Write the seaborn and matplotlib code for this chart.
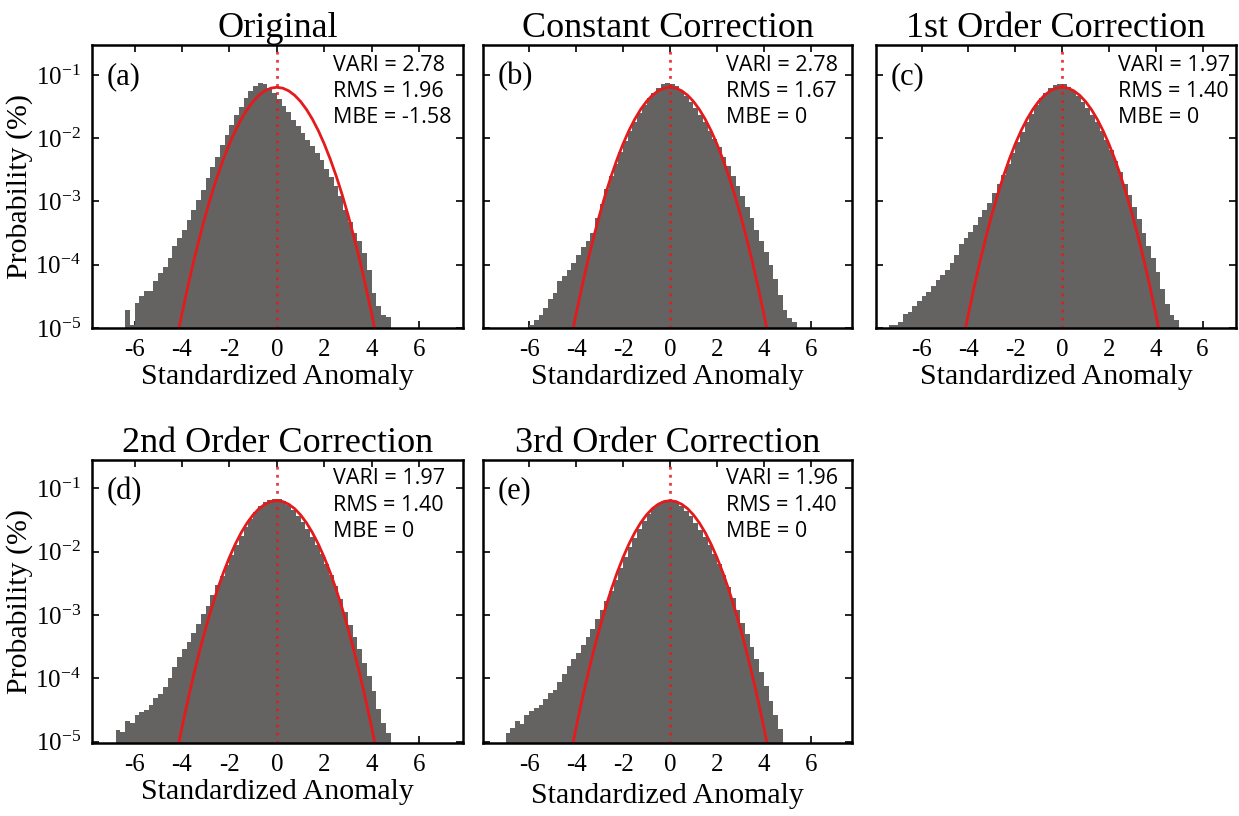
import numpy as np
import pandas as pd
import seaborn as sns
import matplotlib.pyplot as plt

# histogram bins: width 0.2, first bin starts at -7.4 (centres -7.3 ... 5.5)
bin_left = -7.4
bin_width = 0.2
n_bins = 65

# log10 of bar height for every bin, None = empty bin
hist_a = [None, None, None, None, None, -4.72, -4.95, -4.61, -4.49, -4.41,
          -4.42, -4.25, -4.13, -4.03, -3.89, -3.71, -3.58, -3.45, -3.29, -3.13,
          -2.97, -2.82, -2.63, -2.45, -2.29, -2.11, -1.95, -1.79, -1.63, -1.50,
          -1.37, -1.26, -1.17, -1.12, -1.14, -1.21, -1.29, -1.38, -1.49, -1.59,
          -1.71, -1.81, -1.91, -2.02, -2.12, -2.24, -2.35, -2.49, -2.62, -2.76,
          -2.92, -3.13, -3.32, -3.50, -3.63, -3.82, -4.08, -4.45, -4.66, -4.79,
          -4.82, None, None, None, None]
hist_b = [None, None, None, None, None, None, None, -4.95, -4.88, -4.80,
          -4.68, -4.54, -4.44, -4.26, -4.18, -4.08, -3.98, -3.84, -3.72, -3.62,
          -3.50, -3.26, -3.04, -2.81, -2.60, -2.41, -2.22, -2.05, -1.89, -1.74,
          -1.60, -1.48, -1.37, -1.28, -1.20, -1.14, -1.12, -1.14, -1.18, -1.25,
          -1.33, -1.42, -1.52, -1.63, -1.75, -1.88, -2.01, -2.14, -2.29, -2.44,
          -2.60, -2.76, -2.92, -3.08, -3.26, -3.45, -3.62, -3.80, -4.00, -4.22,
          -4.48, -4.72, -4.85, -4.90, None]
hist_c = [-4.95, -4.95, -4.90, -4.78, -4.74, -4.66, -4.58, -4.50, -4.43, -4.33,
          -4.24, -4.16, -4.08, -3.98, -3.85, -3.68, -3.58, -3.49, -3.37, -3.25,
          -3.13, -3.02, -2.86, -2.73, -2.58, -2.41, -2.23, -2.06, -1.90, -1.75,
          -1.61, -1.48, -1.37, -1.28, -1.21, -1.16, -1.14, -1.15, -1.19, -1.25,
          -1.33, -1.42, -1.52, -1.63, -1.75, -1.89, -2.03, -2.19, -2.36, -2.54,
          -2.72, -2.90, -3.08, -3.28, -3.50, -3.70, -3.90, -4.12, -4.38, -4.62,
          -4.80, -4.88, None, None, None]
hist_d = [None, None, None, -4.82, -4.84, -4.68, -4.70, -4.58, -4.53, -4.50,
          -4.42, -4.31, -4.24, -4.13, -4.00, -3.82, -3.66, -3.53, -3.42, -3.28,
          -3.14, -2.98, -2.85, -2.69, -2.53, -2.38, -2.21, -2.05, -1.90, -1.75,
          -1.61, -1.48, -1.37, -1.28, -1.22, -1.18, -1.16, -1.17, -1.20, -1.26,
          -1.34, -1.43, -1.53, -1.64, -1.76, -1.89, -2.03, -2.19, -2.36, -2.54,
          -2.74, -2.95, -3.15, -3.35, -3.53, -3.75, -3.97, -4.20, -4.48, -4.70,
          -4.87, None, None, None, None]
hist_e = [None, None, -4.86, -4.78, -4.67, -4.72, -4.58, -4.52, -4.47, -4.42,
          -4.33, -4.23, -4.18, -4.05, -3.93, -3.80, -3.70, -3.60, -3.47, -3.35,
          -3.22, -3.07, -2.92, -2.78, -2.62, -2.44, -2.26, -2.09, -1.93, -1.78,
          -1.64, -1.51, -1.40, -1.31, -1.24, -1.20, -1.18, -1.19, -1.22, -1.28,
          -1.35, -1.44, -1.54, -1.65, -1.77, -1.90, -2.04, -2.20, -2.37, -2.55,
          -2.73, -2.92, -3.12, -3.30, -3.50, -3.70, -3.90, -4.12, -4.36, -4.58,
          -4.80, None, None, None, None]

# red reference curve (log10 values read at x steps of 0.25)
curve_x = [-4.25, -4.0, -3.75, -3.5, -3.25, -3.0, -2.75, -2.5, -2.25, -2.0,
           -1.75, -1.5, -1.25, -1.0, -0.75, -0.5, -0.25, 0.0, 0.25, 0.5,
           0.75, 1.0, 1.25, 1.5, 1.75, 2.0, 2.25, 2.5, 2.75, 3.0,
           3.25, 3.5, 3.75, 4.0, 4.25]
curve_log = [-5.238, -4.776, -4.343, -3.937, -3.559, -3.209, -2.887, -2.593, -2.328, -2.090,
             -1.880, -1.698, -1.544, -1.418, -1.320, -1.250, -1.208, -1.194, -1.208, -1.250,
             -1.320, -1.418, -1.544, -1.698, -1.880, -2.090, -2.328, -2.593, -2.887, -3.209,
             -3.559, -3.937, -4.343, -4.776, -5.238]

titles = ['Original', 'Constant Correction', '1st Order Correction',
          '2nd Order Correction', '3rd Order Correction']
panel_tags = ['(a)', '(b)', '(c)', '(d)', '(e)']
vari = ['2.78', '2.78', '1.97', '1.97', '1.96']
rms = ['1.96', '1.67', '1.40', '1.40', '1.40']
mbe = ['-1.58', '0', '0', '0', '0']
xticks = [-6, -4, -2, 0, 2, 4, 6]
yticks = [1e-5, 1e-4, 1e-3, 1e-2, 1e-1]

sns.set_theme(style='white')
plt.rcParams['font.family'] = ['Liberation Serif', 'DejaVu Serif']
plt.rcParams['mathtext.fontset'] = 'custom'
plt.rcParams['mathtext.rm'] = 'Liberation Serif'
plt.rcParams['axes.edgecolor'] = 'black'
plt.rcParams['text.color'] = 'black'
plt.rcParams['axes.labelcolor'] = 'black'
plt.rcParams['axes.titlecolor'] = 'black'

gray = '#656361'
red = '#e41a1c'

fig = plt.figure(figsize=(12.39, 8.16), dpi=100)
boxes = [[0.0743, 0.5977, 0.2992, 0.3468],
         [0.3898, 0.5977, 0.2981, 0.3468],
         [0.7070, 0.5977, 0.2906, 0.3468],
         [0.0743, 0.0898, 0.2992, 0.3464],
         [0.3898, 0.0898, 0.2981, 0.3464]]
xlims = [(-7.79, 7.84), (-7.97, 7.77), (-7.95, 7.43), (-7.79, 7.84), (-7.97, 7.77)]
ylims = [(10**-5.005, 10**-0.53)] * 3 + [(10**-5.016, 10**-0.553)] * 2
stat_x = [0.65, 0.659, 0.672, 0.65, 0.659]
stat_y = [[0.930, 0.836, 0.746]] * 3 + [[0.935, 0.841, 0.746]] * 2

centers = bin_left + bin_width * (np.arange(n_bins) + 0.5)

for k, h in enumerate([hist_a, hist_b, hist_c, hist_d, hist_e]):
    ax = fig.add_axes(boxes[k])
    df = pd.DataFrame({'x': centers, 'p': [10**v if v is not None else 0.0 for v in h]})
    df = df[df.p > 0]
    sns.histplot(data=df, x='x', weights='p', bins=n_bins,
                 binrange=(bin_left, bin_left + n_bins * bin_width),
                 element='step', fill=True, color=gray, alpha=1, linewidth=0, ax=ax)
    sns.lineplot(x=curve_x, y=10**np.array(curve_log), color=red, lw=2, ax=ax)
    ax.axvline(0, color=red, lw=2.0, linestyle=(0, (1, 1.9)), alpha=0.85)
    ax.set_yscale('log')
    ax.set_xlim(*xlims[k])
    ax.set_ylim(*ylims[k])
    ax.set_xticks(xticks)
    ax.set_xticklabels([str(t) for t in xticks])
    ax.set_yticks(yticks)
    ax.minorticks_off()
    ax.tick_params(direction='in', bottom=True, left=True, top=True, right=True,
                   length=5, width=1.2, labelsize=18, pad=8, colors='black')
    for s in ax.spines.values():
        s.set_linewidth(1.8)
        s.set_color('black')
    ax.set_title(titles[k], fontsize=26, pad=6)
    ax.set_xlabel('Standardized Anomaly', fontsize=21.5, labelpad=2 if k != 4 else 5)
    if k in (0, 3):
        ax.set_ylabel('Probability (%)', fontsize=21.5, labelpad=2)
    else:
        ax.set_ylabel('')
        ax.tick_params(labelleft=False)
    ax.text(0.04, 0.89, panel_tags[k], transform=ax.transAxes, fontsize=22,
            va='center', ha='left')
    for txt, yy in zip(['VARI = ' + vari[k], 'RMS = ' + rms[k], 'MBE = ' + mbe[k]], stat_y[k]):
        ax.text(stat_x[k], yy, txt, transform=ax.transAxes, fontsize=15.5,
                family='Open Sans', va='center', ha='left', color='black')

fig.savefig('out.png', dpi=100)
